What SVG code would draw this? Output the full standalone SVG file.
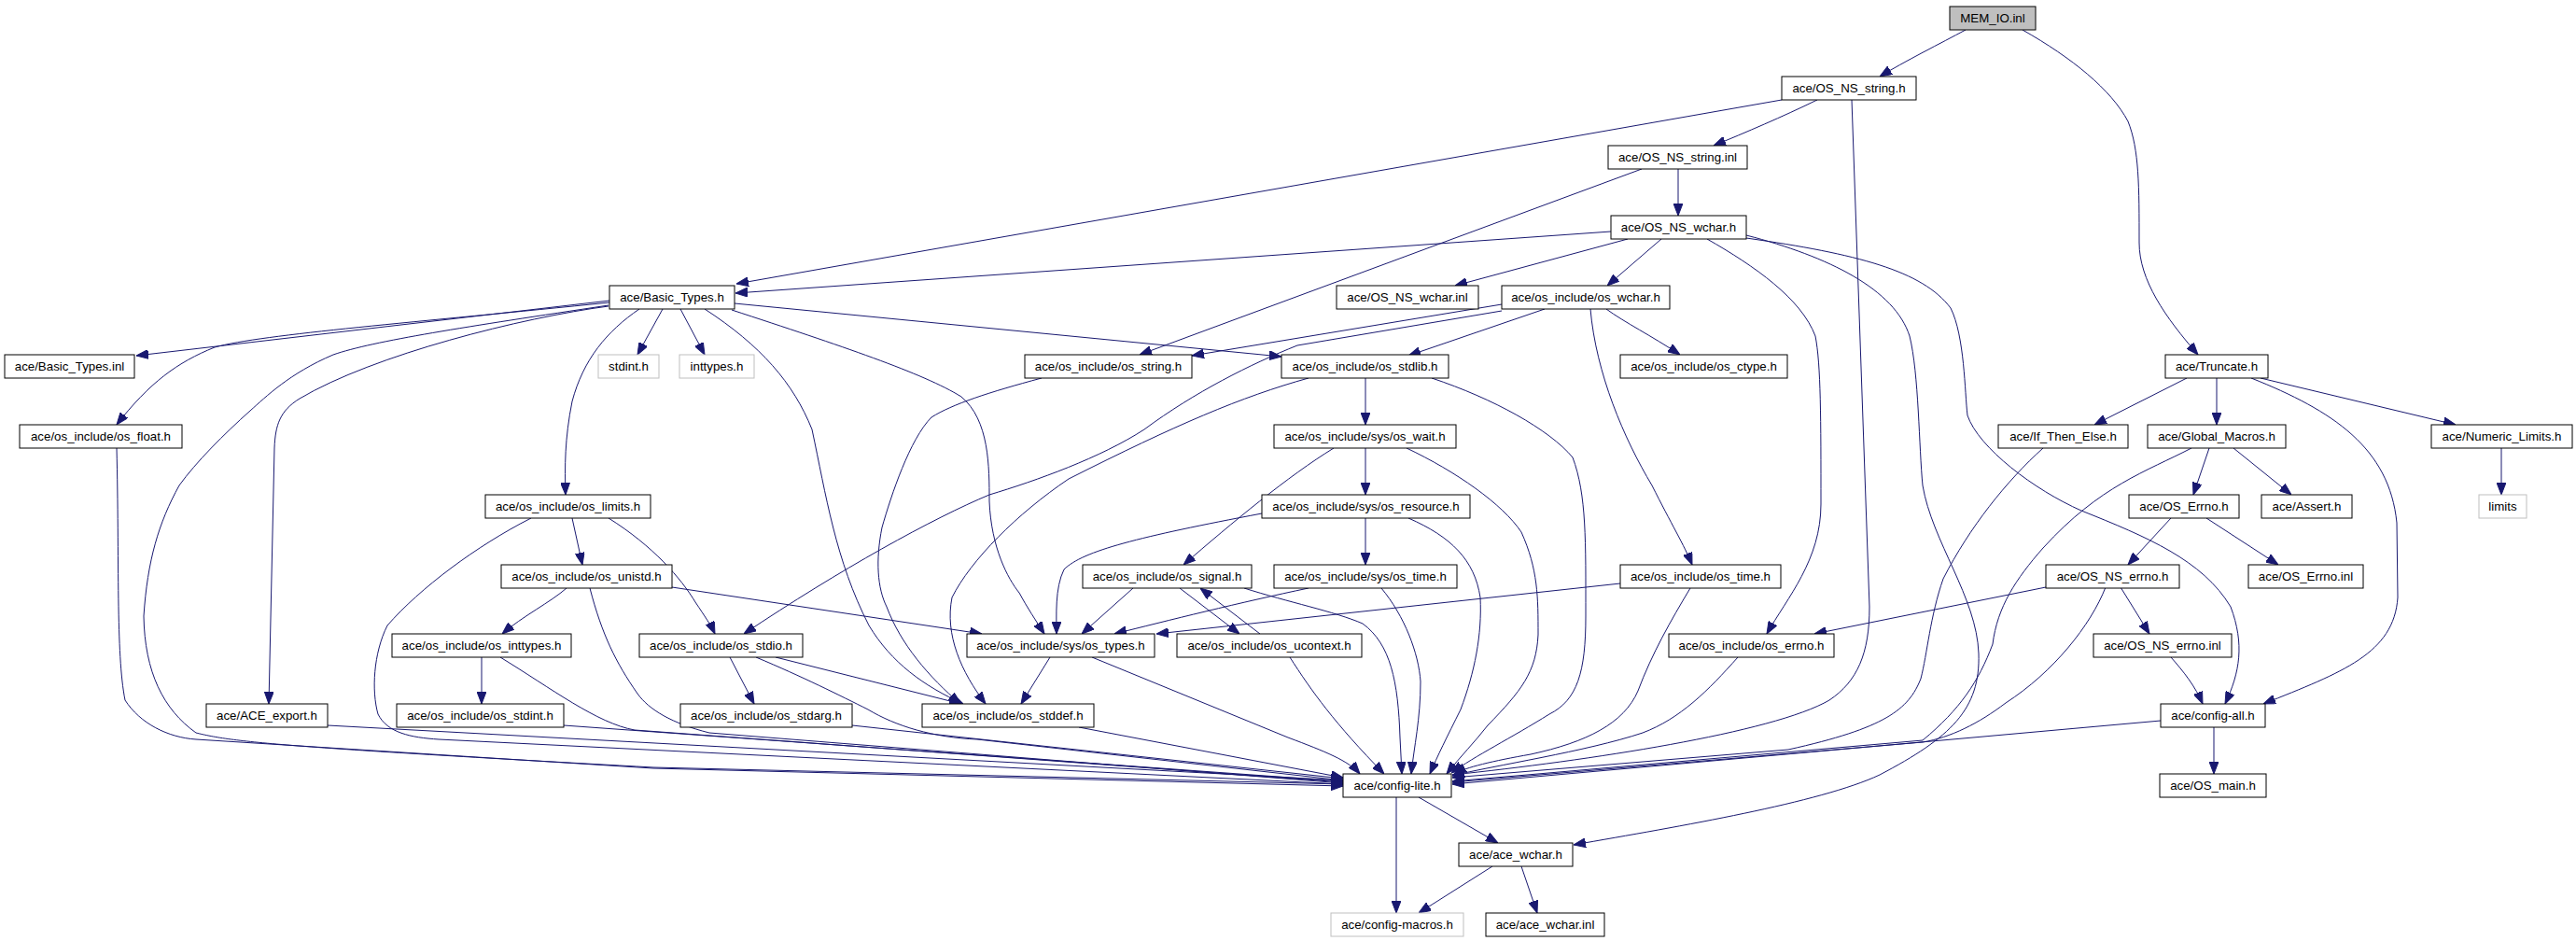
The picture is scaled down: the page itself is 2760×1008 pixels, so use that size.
<svg xmlns="http://www.w3.org/2000/svg" width="2760" height="1008" viewBox="0 0 2760 1008">
<style>
rect{fill:#fff;stroke:#000;stroke-width:1}
.g rect{stroke:#bfbfbf}
.r rect{fill:#bfbfbf}
text{font-family:"Liberation Sans",Arial,sans-serif;font-size:13.3px;fill:#000;text-anchor:middle}
#edges path{fill:none;stroke:#191970;stroke-width:1;marker-end:url(#a)}
</style>
<defs>
<marker id="a" markerWidth="13" markerHeight="10" refX="13" refY="5" orient="auto" markerUnits="userSpaceOnUse"><path d="M0,0 L13,5 L0,10 z" fill="#191970" stroke="#191970" stroke-width="1"/></marker>
</defs>
<rect x="0" y="0" width="2760" height="1008" style="fill:#fff;stroke:none"/>
<g id="edges">
<path d="M2106,32 C2080,46 2040,66 2014,82"/>
<path d="M2167,32 C2220,62 2262,96 2280,130 C2292,160 2292,200 2292,260 C2292,300 2320,340 2355,380"/>
<path d="M1909,107 L789,304"/>
<path d="M1947,107 C1910,125 1870,142 1836,156"/>
<path d="M1984,107 L2003,650 C2003,700 1990,730 1960,750 C1900,785 1700,815 1556,830"/>
<path d="M1759,181 L1221,380"/>
<path d="M1798,181 L1798,231"/>
<path d="M1726,248 L788,314"/>
<path d="M1744,256 L1559,306"/>
<path d="M1780,256 L1722,306"/>
<path d="M1829,256 C1880,285 1930,320 1945,360 C1951,390 1951,450 1951,540 C1951,600 1915,640 1893,679"/>
<path d="M1871,252 C1960,275 2030,310 2046,360 C2056,400 2056,480 2060,520 C2070,580 2118,640 2120,700 C2122,760 2090,790 2014,830 C1950,860 1800,885 1686,905"/>
<path d="M1871,255 C1990,272 2060,290 2090,330 C2105,360 2105,420 2108,445 C2120,480 2180,525 2230,547 C2300,575 2360,600 2390,650 C2405,690 2400,720 2384,754"/>
<path d="M653,322 L146,381"/>
<path d="M653,324 C450,345 280,358 230,372 C190,388 160,410 125,455"/>
<path d="M710,331 L683,380"/>
<path d="M729,331 L755,380"/>
<path d="M685,331 C650,355 625,385 613,430 C605,470 605,500 606,530"/>
<path d="M652,328 C560,340 400,380 321,427 C300,440 295,455 294,480 L288,754"/>
<path d="M652,327 C500,350 400,365 357,380 C310,400 285,425 268,440 C240,465 210,495 192,520 C170,560 158,600 154,660 C155,720 175,760 210,785 C250,795 300,800 700,822 L1439,840"/>
<path d="M755,331 C815,370 850,410 870,460 C885,530 895,600 931,670 C955,710 990,735 1032,754"/>
<path d="M784,332 C900,370 990,400 1030,425 C1060,450 1060,500 1060,537 C1062,587 1080,620 1092,635 C1100,650 1110,665 1119,679"/>
<path d="M787,325 L1373,382"/>
<path d="M125,480 C128,600 124,700 134,750 C150,775 180,790 210,792 L700,823 L1439,842"/>
<path d="M351,777 L1439,836"/>
<path d="M604,777 L1439,837"/>
<path d="M536,704 C590,737 640,775 680,782 L1439,838"/>
<path d="M516,704 L516,754"/>
<path d="M613,555 L624,605"/>
<path d="M652,555 C700,585 730,620 745,645 C755,660 762,670 766,679"/>
<path d="M569,555 C510,585 450,630 415,670 C400,700 398,740 405,765 C415,785 440,790 470,792 L1439,840"/>
<path d="M607,630 C590,645 560,660 538,679"/>
<path d="M720,629 L1052,679"/>
<path d="M632,630 C645,680 660,710 683,743 C695,760 720,775 760,785 L1439,839"/>
<path d="M782,704 L808,754"/>
<path d="M831,704 L1030,754"/>
<path d="M810,704 C860,725 900,745 930,760 C960,778 1000,790 1047,792 L1439,836"/>
<path d="M913,777 L1439,834"/>
<path d="M1156,779 L1439,833"/>
<path d="M1125,704 L1094,754"/>
<path d="M1170,704 L1380,790 C1420,805 1445,815 1457,829"/>
<path d="M1116,405 C1060,420 1020,433 998,447 C975,470 955,530 945,565 C938,600 940,630 950,650 C965,690 995,725 1029,754"/>
<path d="M1609,326 L1277,381"/>
<path d="M1655,331 L1509,381"/>
<path d="M1609,333 L1390,370 C1340,390 1280,420 1226,460 C1180,490 1110,515 1060,530 C1000,555 900,610 797,679"/>
<path d="M1721,331 C1740,345 1770,360 1800,380"/>
<path d="M1704,331 C1710,400 1740,470 1770,520 C1790,560 1805,585 1813,605"/>
<path d="M1463,405 L1463,455"/>
<path d="M1402,405 C1330,425 1260,455 1145,513 C1090,550 1040,600 1020,640 C1012,680 1030,720 1056,754"/>
<path d="M1534,405 C1600,427 1660,460 1685,490 C1700,530 1699,580 1699,660 C1699,720 1690,750 1660,765 C1620,790 1580,810 1555,828"/>
<path d="M1463,480 L1463,530"/>
<path d="M1429,480 C1380,510 1320,560 1268,605"/>
<path d="M1507,480 C1560,505 1610,540 1630,570 C1648,610 1648,640 1648,680 C1646,720 1630,740 1594,777 C1580,795 1565,810 1550,829"/>
<path d="M1463,555 L1463,605"/>
<path d="M1352,550 C1220,575 1160,590 1140,610 C1130,630 1132,660 1132,679"/>
<path d="M1509,555 C1555,575 1580,600 1586,640 C1588,680 1580,720 1565,760 C1550,790 1540,810 1532,829"/>
<path d="M1402,630 C1330,645 1250,665 1194,679"/>
<path d="M1480,630 C1505,660 1520,700 1522,730 C1522,770 1515,800 1512,829"/>
<path d="M1214,630 L1159,679"/>
<path d="M1264,630 L1328,679"/>
<path d="M1350,679 L1286,630"/>
<path d="M1333,630 C1380,645 1430,655 1460,668 C1490,690 1498,730 1500,790 L1502,829"/>
<path d="M1382,704 C1405,740 1430,775 1483,829"/>
<path d="M1736,625 L1239,679"/>
<path d="M1811,630 C1790,665 1770,700 1755,740 C1740,775 1700,795 1640,808 C1600,815 1570,822 1558,829"/>
<path d="M1862,704 C1830,740 1800,770 1760,785 C1700,805 1600,820 1556,831"/>
<path d="M2343,405 L2244,455"/>
<path d="M2375,405 L2375,455"/>
<path d="M2422,405 L2631,455"/>
<path d="M2412,405 C2500,440 2560,480 2568,560 L2569,640 C2565,700 2510,720 2425,754"/>
<path d="M2680,480 L2680,530"/>
<path d="M2367,480 L2350,530"/>
<path d="M2393,480 L2455,530"/>
<path d="M2348,480 C2300,505 2250,520 2189,587 C2160,620 2140,650 2135,690 C2120,730 2100,760 2060,793 L1556,837"/>
<path d="M2189,480 C2150,515 2110,565 2082,620 C2068,660 2065,700 2058,727 C2045,760 2020,780 1916,803 L1556,833"/>
<path d="M2326,555 L2280,605"/>
<path d="M2364,555 L2441,605"/>
<path d="M2192,629 L1944,679"/>
<path d="M2272,629 L2303,679"/>
<path d="M2256,629 C2240,670 2200,720 2149,753 C2120,775 2090,790 2060,795 L1556,838"/>
<path d="M2326,704 C2340,720 2352,735 2360,754"/>
<path d="M2315,772 L1556,840"/>
<path d="M2372,779 L2372,829"/>
<path d="M1520,854 L1605,903"/>
<path d="M1496,854 L1496,978"/>
<path d="M1599,928 L1520,978"/>
<path d="M1630,928 L1647,978"/>
</g>
<g id="n0" class="r"><rect x="2089" y="7" width="92" height="25"/><text x="2135" y="24">MEM_IO.inl</text></g>
<g id="n1"><rect x="1909" y="82" width="144" height="25"/><text x="1981" y="99">ace/OS_NS_string.h</text></g>
<g id="n2"><rect x="1723" y="156" width="149" height="25"/><text x="1797.5" y="173">ace/OS_NS_string.inl</text></g>
<g id="n3"><rect x="1726" y="231" width="145" height="25"/><text x="1798.5" y="248">ace/OS_NS_wchar.h</text></g>
<g id="n4"><rect x="653" y="306" width="134" height="25"/><text x="720" y="323">ace/Basic_Types.h</text></g>
<g id="n5"><rect x="1432" y="306" width="152" height="25"/><text x="1508" y="323">ace/OS_NS_wchar.inl</text></g>
<g id="n6"><rect x="1609" y="306" width="180" height="25"/><text x="1699" y="323">ace/os_include/os_wchar.h</text></g>
<g id="n7"><rect x="5" y="380" width="139" height="25"/><text x="74.5" y="397">ace/Basic_Types.inl</text></g>
<g id="n8" class="g"><rect x="641" y="380" width="65" height="25"/><text x="673.5" y="397">stdint.h</text></g>
<g id="n9" class="g"><rect x="728" y="380" width="80" height="25"/><text x="768" y="397">inttypes.h</text></g>
<g id="n10"><rect x="1098" y="380" width="179" height="25"/><text x="1187.5" y="397">ace/os_include/os_string.h</text></g>
<g id="n11"><rect x="1373" y="380" width="179" height="25"/><text x="1462.5" y="397">ace/os_include/os_stdlib.h</text></g>
<g id="n12"><rect x="1736" y="380" width="179" height="25"/><text x="1825.5" y="397">ace/os_include/os_ctype.h</text></g>
<g id="n13"><rect x="2320" y="380" width="110" height="25"/><text x="2375" y="397">ace/Truncate.h</text></g>
<g id="n14"><rect x="21" y="455" width="174" height="25"/><text x="108" y="472">ace/os_include/os_float.h</text></g>
<g id="n15"><rect x="1365" y="455" width="195" height="25"/><text x="1462.5" y="472">ace/os_include/sys/os_wait.h</text></g>
<g id="n16"><rect x="2141" y="455" width="139" height="25"/><text x="2210.5" y="472">ace/If_Then_Else.h</text></g>
<g id="n17"><rect x="2301" y="455" width="148" height="25"/><text x="2375" y="472">ace/Global_Macros.h</text></g>
<g id="n18"><rect x="2605" y="455" width="151" height="25"/><text x="2680.5" y="472">ace/Numeric_Limits.h</text></g>
<g id="n19"><rect x="520" y="530" width="177" height="25"/><text x="608.5" y="547">ace/os_include/os_limits.h</text></g>
<g id="n20"><rect x="1352" y="530" width="223" height="25"/><text x="1463.5" y="547">ace/os_include/sys/os_resource.h</text></g>
<g id="n21"><rect x="2281" y="530" width="118" height="25"/><text x="2340" y="547">ace/OS_Errno.h</text></g>
<g id="n22"><rect x="2423" y="530" width="97" height="25"/><text x="2471.5" y="547">ace/Assert.h</text></g>
<g id="n23" class="g"><rect x="2656" y="530" width="51" height="25"/><text x="2681.5" y="547">limits</text></g>
<g id="n24"><rect x="537" y="605" width="183" height="25"/><text x="628.5" y="622">ace/os_include/os_unistd.h</text></g>
<g id="n25"><rect x="1160" y="605" width="181" height="25"/><text x="1250.5" y="622">ace/os_include/os_signal.h</text></g>
<g id="n26"><rect x="1365" y="605" width="196" height="25"/><text x="1463" y="622">ace/os_include/sys/os_time.h</text></g>
<g id="n27"><rect x="1736" y="605" width="172" height="25"/><text x="1822" y="622">ace/os_include/os_time.h</text></g>
<g id="n28"><rect x="2192" y="605" width="143" height="25"/><text x="2263.5" y="622">ace/OS_NS_errno.h</text></g>
<g id="n29"><rect x="2409" y="605" width="123" height="25"/><text x="2470.5" y="622">ace/OS_Errno.inl</text></g>
<g id="n30"><rect x="420" y="679" width="192" height="25"/><text x="516" y="696">ace/os_include/os_inttypes.h</text></g>
<g id="n31"><rect x="685" y="679" width="175" height="25"/><text x="772.5" y="696">ace/os_include/os_stdio.h</text></g>
<g id="n32"><rect x="1036" y="679" width="201" height="25"/><text x="1136.5" y="696">ace/os_include/sys/os_types.h</text></g>
<g id="n33"><rect x="1261" y="679" width="198" height="25"/><text x="1360" y="696">ace/os_include/os_ucontext.h</text></g>
<g id="n34"><rect x="1788" y="679" width="177" height="25"/><text x="1876.5" y="696">ace/os_include/os_errno.h</text></g>
<g id="n35"><rect x="2243" y="679" width="148" height="25"/><text x="2317" y="696">ace/OS_NS_errno.inl</text></g>
<g id="n36"><rect x="221" y="754" width="130" height="25"/><text x="286" y="771">ace/ACE_export.h</text></g>
<g id="n37"><rect x="425" y="754" width="179" height="25"/><text x="514.5" y="771">ace/os_include/os_stdint.h</text></g>
<g id="n38"><rect x="729" y="754" width="184" height="25"/><text x="821" y="771">ace/os_include/os_stdarg.h</text></g>
<g id="n39"><rect x="988" y="754" width="184" height="25"/><text x="1080" y="771">ace/os_include/os_stddef.h</text></g>
<g id="n40"><rect x="2315" y="754" width="112" height="25"/><text x="2371" y="771">ace/config-all.h</text></g>
<g id="n41"><rect x="1439" y="829" width="116" height="25"/><text x="1497" y="846">ace/config-lite.h</text></g>
<g id="n42"><rect x="2314" y="829" width="114" height="25"/><text x="2371" y="846">ace/OS_main.h</text></g>
<g id="n43"><rect x="1563" y="903" width="122" height="25"/><text x="1624" y="920">ace/ace_wchar.h</text></g>
<g id="n44" class="g"><rect x="1426" y="978" width="142" height="25"/><text x="1497" y="995">ace/config-macros.h</text></g>
<g id="n45"><rect x="1592" y="978" width="127" height="25"/><text x="1655.5" y="995">ace/ace_wchar.inl</text></g>
</svg>
